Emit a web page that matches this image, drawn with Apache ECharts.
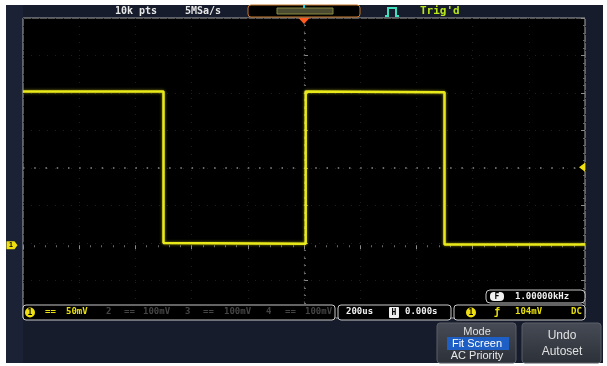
<!DOCTYPE html>
<html><head><meta charset="utf-8">
<script src="https://cdn.jsdelivr.net/npm/echarts@6/dist/echarts.min.js"></script>
<style>html,body{margin:0;padding:0;background:#fff}#c{width:607px;height:366px}</style>
</head><body><div id="c"></div>
<script>
// time in microseconds (200 us/div), voltage in mV (50 mV/div)
var timeUs = [-1000, -500, -500, 6, 6, 500, 500, 1000];
var voltMv = [205, 205, 3, 2, 205, 204, 1, 1];
var xRange = [-1000, 1000], xStep = 200;
var yRange = [-97, 303], yStep = 50;
var trigLevelMv = 104;
var groundMv = 0;
var centerMv = 103;

var chart = echarts.init(document.getElementById('c'), null, {renderer: 'canvas'});
var mono = '"DejaVu Sans Mono", monospace';
var pts = timeUs.map(function (t, i) { return [t, voltMv[i]]; });

function txt(x, y, s, color, size, align, weight, font) {
  return {type: 'text', x: x, y: y, z: 20, style: {text: s, fill: color, font: (weight || 'bold') + ' ' + (size || 10) + 'px ' + (font || mono), textAlign: align || 'left', textVerticalAlign: 'middle'}};
}
function box(x, y, w, h, stroke, fill, r) {
  return {type: 'rect', z: 15, shape: {x: x, y: y, width: w, height: h, r: r || 3}, style: {fill: fill || '#000', stroke: stroke || '#c8c8c8', lineWidth: 1}};
}
function circ(cx, cy, r, fill) {
  return {type: 'circle', z: 18, shape: {cx: cx, cy: cy, r: r}, style: {fill: fill}};
}

var graphics = [
  {type: 'rect', z: -10, shape: {x: 6, y: 5, width: 597, height: 358}, style: {fill: '#161c2b'}},
  {type: 'rect', z: -9, shape: {x: 6, y: 5, width: 17, height: 358}, style: {fill: '#1b2236'}},
  // top bar
  txt(115, 11, '10k pts', '#e8e8e8', 10),
  txt(185, 11, '5MSa/s', '#e8e8e8', 10),
  box(248, 5, 112, 12, '#c8782a', '#000', 0),
  {type: 'rect', z: 16, shape: {x: 277, y: 8, width: 56, height: 6}, style: {fill: '#4a4a30', stroke: '#8a8a40', lineWidth: 1}},
  {type: 'rect', z: 17, shape: {x: 303, y: 5, width: 2, height: 3}, style: {fill: '#20d0e0'}},
  {type: 'polyline', z: 20, shape: {points: [[385, 16], [388, 16], [388, 8], [396, 8], [396, 16], [399, 16]]}, style: {stroke: '#3fe0c0', lineWidth: 2, fill: null}},
  txt(420, 11, "Trig'd", '#b8e81a', 11),
  // F frequency box
  box(486, 290, 99, 13, '#c8c8c8', '#000', 4),
  {type: 'rect', z: 17, shape: {x: 490, y: 292, width: 14, height: 9, r: 4}, style: {fill: '#f0f0f0'}},
  txt(497, 296.5, 'F', '#000', 8, 'center'),
  txt(515, 297, '1.00000kHz', '#f0f0f0', 9),
  // status bar
  box(23, 305, 312, 15, '#c8c8c8', '#000', 3),
  circ(30, 312.5, 5, '#f0e010'),
  txt(30, 313, '1', '#000', 8, 'center'),
  txt(45, 312, '==', '#e8e010', 9),
  txt(66, 312, '50mV', '#e8e010', 9),
  txt(106, 312, '2', '#444', 9),
  txt(124, 312, '==', '#444', 9),
  txt(143, 312, '100mV', '#444', 9),
  txt(185, 312, '3', '#444', 9),
  txt(203, 312, '==', '#444', 9),
  txt(224, 312, '100mV', '#444', 9),
  txt(266, 312, '4', '#444', 9),
  txt(285, 312, '==', '#444', 9),
  txt(305, 312, '100mV', '#444', 9),
  box(338, 305, 113, 15, '#c8c8c8', '#000', 3),
  txt(346, 312, '200us', '#f0f0f0', 9),
  {type: 'rect', z: 17, shape: {x: 389, y: 307, width: 10, height: 11, r: 1}, style: {fill: '#f0f0f0'}},
  txt(394, 312.5, 'H', '#000', 8, 'center'),
  txt(405, 312, '0.000s', '#f0f0f0', 9),
  box(454, 305, 131, 15, '#c8c8c8', '#000', 3),
  circ(471, 312.5, 5, '#f0e010'),
  txt(471, 313, '1', '#000', 8, 'center'),
  txt(494, 312, '\u0192', '#e8e010', 10),
  txt(515, 312, '104mV', '#e8e010', 9),
  txt(571, 312, 'DC', '#e8e010', 9),
  // soft-key buttons
  {type: 'rect', z: 15, shape: {x: 437, y: 323, width: 79, height: 40, r: 3}, style: {fill: {type: 'linear', x: 0, y: 0, x2: 0, y2: 1, colorStops: [{offset: 0, color: '#464b55'}, {offset: 1, color: '#2c3038'}]}, stroke: '#5a5f68', lineWidth: 1}},
  txt(477, 332, 'Mode', '#e0e0e0', 11, 'center', 'normal', 'Arial, "Liberation Sans", sans-serif'),
  {type: 'rect', z: 16, shape: {x: 447, y: 337, width: 62, height: 13}, style: {fill: '#1d5fc4'}},
  txt(477, 344, 'Fit Screen', '#ffffff', 11, 'center', 'normal', 'Arial, "Liberation Sans", sans-serif'),
  txt(477, 356, 'AC Priority', '#e8e8e8', 11, 'center', 'normal', 'Arial, "Liberation Sans", sans-serif'),
  {type: 'rect', z: 15, shape: {x: 522, y: 323, width: 79, height: 40, r: 3}, style: {fill: {type: 'linear', x: 0, y: 0, x2: 0, y2: 1, colorStops: [{offset: 0, color: '#464b55'}, {offset: 1, color: '#2c3038'}]}, stroke: '#5a5f68', lineWidth: 1}},
  txt(562, 336, 'Undo', '#e0e0e0', 12, 'center', 'normal', 'Arial, "Liberation Sans", sans-serif'),
  txt(562, 352, 'Autoset', '#e0e0e0', 12, 'center', 'normal', 'Arial, "Liberation Sans", sans-serif')
];

var dimSplit = {show: true, lineStyle: {color: '#1e1e1e', type: [1, 7]}};

chart.setOption({
  backgroundColor: '#ffffff',
  animation: false,
  graphic: graphics,
  grid: {left: 23, top: 18, width: 562, height: 300, show: true, backgroundColor: '#000000', borderColor: '#a8a8a8', borderWidth: 1},
  xAxis: {type: 'value', min: xRange[0], max: xRange[1], interval: xStep, position: 'top',
    axisLine: {show: false}, axisLabel: {show: false},
    axisTick: {show: true, inside: true, length: 4, lineStyle: {color: '#8a8a8a'}},
    minorTick: {show: true, splitNumber: 5, length: 2, lineStyle: {color: '#6a6a6a'}},
    splitLine: dimSplit},
  yAxis: [
    {type: 'value', min: yRange[0], max: yRange[1], interval: yStep, position: 'left',
      axisLine: {show: false}, axisLabel: {show: false},
      axisTick: {show: true, inside: true, length: 4, lineStyle: {color: '#8a8a8a'}},
      minorTick: {show: true, splitNumber: 5, length: 2, lineStyle: {color: '#6a6a6a'}},
      splitLine: dimSplit},
    {type: 'value', min: yRange[0], max: yRange[1], interval: yStep, position: 'right',
      axisLine: {show: false}, axisLabel: {show: false},
      axisTick: {show: true, inside: true, length: 4, lineStyle: {color: '#8a8a8a'}},
      minorTick: {show: true, splitNumber: 5, length: 2, lineStyle: {color: '#6a6a6a'}},
      splitLine: {show: false}}
  ],
  series: [
    {type: 'line', data: [], silent: true,
      markLine: {silent: true, symbol: 'none', label: {show: false}, animation: false,
        data: [
          {yAxis: centerMv, lineStyle: {color: '#8a8a8a', width: 1.5, type: [1.5, 9.74]}},
          {xAxis: 0, lineStyle: {color: '#505050', width: 1.2, type: [1.5, 6]}}
        ]}},
    {type: 'line', data: pts, showSymbol: false, clip: true, z: 5,
      lineStyle: {color: '#eaea1a', width: 2.5, shadowBlur: 3, shadowColor: 'rgba(240,240,40,0.6)'},
      markPoint: {silent: true, animation: false, label: {show: false},
        data: [
          {coord: [xRange[1], trigLevelMv], symbol: 'path://M0,5 L6,0 L6,10 Z', symbolSize: [6, 9], symbolOffset: [-3, 0], itemStyle: {color: '#f0e010'}},
          {coord: [0, yRange[1]], symbol: 'path://M0,0 L10,0 L5,6 Z', symbolSize: [11, 6], symbolOffset: [0, 3], itemStyle: {color: '#ff5a1e'}},
          {coord: [xRange[0], groundMv], symbol: 'path://M0,0 L8,0 L11,4 L8,8 L0,8 Z', symbolSize: [11, 8], symbolOffset: [-11, 0], itemStyle: {color: '#f0e010'},
            label: {show: true, formatter: '1', color: '#000', fontSize: 7, fontWeight: 'bold', position: 'inside', offset: [-1, 0]}}
        ]}}
  ]
});
</script></body></html>
